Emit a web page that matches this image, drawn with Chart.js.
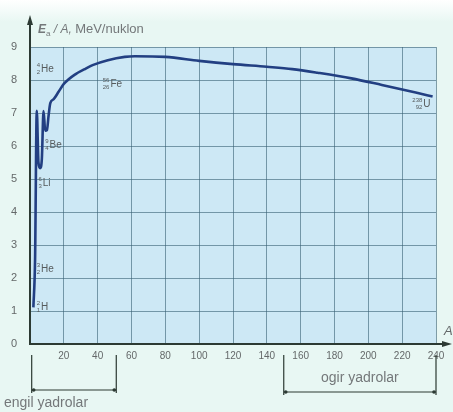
<!DOCTYPE html>
<html>
<head>
<meta charset="utf-8">
<script src="https://cdn.jsdelivr.net/npm/chart.js@4/dist/chart.umd.min.js"></script>
<style>
html,body{margin:0;padding:0;background:#ffffff;}
#wrap{width:453px;height:412px;}
</style>
</head>
<body>
<div id="wrap"><canvas id="c" width="453" height="412"></canvas></div>
<script>
// ---- data ----
const massNumbers   = [2, 3, 4, 5, 6, 7, 8, 9, 10, 11, 12, 14, 17, 20, 27, 32, 37, 46, 56, 62, 80, 100, 120, 140, 155, 170, 190, 208, 228, 238];
const bindingEnergy = [1.11, 2.57, 7.07, 5.5, 5.33, 5.61, 7.06, 6.46, 6.48, 6.93, 7.3, 7.42, 7.65, 7.88, 8.18, 8.32, 8.45, 8.6, 8.7, 8.72, 8.7, 8.58, 8.48, 8.4, 8.33, 8.22, 8.05, 7.85, 7.62, 7.5];
const xTicks = [0, 20, 40, 60, 80, 100, 120, 140, 160, 180, 200, 220, 240];
const yTicks = [0, 1, 2, 3, 4, 5, 6, 7, 8, 9];
const nuclideSymbols = ['He', 'Fe', 'U', 'Be', 'Li', 'He', 'H'];
const nuclideMass    = ['4', '56', '238', '9', '6', '3', '2'];
const nuclideCharge  = ['2', '26', '92', '4', '3', '2', '1'];
const labelAtA       = [4, 43, 226, 9, 5, 4, 4];
const labelAtE       = [8.35, 7.9, 7.3, 6.05, 4.9, 2.3, 1.15];
const axisTitle = ['E', 'a', ' / A, ', 'MeV/nuklon'];
const groupNames  = ['engil yadrolar', 'ogir yadrolar'];
const groupStartA = [1, 150];
const groupEndA   = [51, 240];

const GRAY = '#646869';
const FONT = '"Liberation Sans", Arial, sans-serif';

const decor = {
  id: 'decor',
  beforeDraw(chart) {
    const ctx = chart.ctx, a = chart.chartArea;
    ctx.save();
    const g = ctx.createLinearGradient(0, 0, 0, 22);
    g.addColorStop(0, '#ffffff');
    g.addColorStop(1, '#e8f7f3');
    ctx.fillStyle = g;
    ctx.fillRect(0, 0, chart.width, chart.height);
    ctx.fillStyle = '#e8f7f3';
    ctx.fillRect(0, 22, chart.width, chart.height - 22);
    ctx.fillStyle = '#cde8f5';
    ctx.fillRect(a.left, a.top, a.right - a.left, a.bottom - a.top);
    ctx.restore();
  },
  afterDraw(chart) {
    const ctx = chart.ctx, a = chart.chartArea;
    const xs = chart.scales.x, ys = chart.scales.y;
    ctx.save();
    // axes
    ctx.strokeStyle = '#2c3a33';
    ctx.fillStyle = '#2c3a33';
    ctx.lineWidth = 2;
    ctx.beginPath();
    ctx.moveTo(a.left, a.bottom + 1);
    ctx.lineTo(a.left, 22);
    ctx.moveTo(a.left - 1, a.bottom);
    ctx.lineTo(446, a.bottom);
    ctx.stroke();
    ctx.beginPath();
    ctx.moveTo(a.left, 15); ctx.lineTo(a.left - 3, 25); ctx.lineTo(a.left + 3, 25); ctx.closePath(); ctx.fill();
    ctx.beginPath();
    ctx.moveTo(452, a.bottom); ctx.lineTo(442, a.bottom - 3); ctx.lineTo(442, a.bottom + 3); ctx.closePath(); ctx.fill();
    ctx.fillStyle = GRAY;
    ctx.font = 'italic 13px ' + FONT;
    ctx.textBaseline = 'alphabetic';
    ctx.textAlign = 'left';
    ctx.fillText('A', 444, 335);

    // axis title
    let x = 38; const yb = 33;
    ctx.fillStyle = '#74787a';
    ctx.font = 'italic bold 12px ' + FONT;
    ctx.fillText(axisTitle[0], x, yb); x += ctx.measureText(axisTitle[0]).width;
    ctx.font = '8px ' + FONT;
    ctx.fillText(axisTitle[1], x, yb + 3); x += ctx.measureText(axisTitle[1]).width;
    ctx.font = 'italic 12px ' + FONT;
    ctx.fillText(axisTitle[2], x, yb); x += ctx.measureText(axisTitle[2]).width;
    ctx.font = '13px ' + FONT;
    ctx.fillText(axisTitle[3], x, yb);

    // nuclide labels
    for (let i = 0; i < nuclideSymbols.length; i++) {
      const px = xs.getPixelForValue(labelAtA[i]);
      const py = ys.getPixelForValue(labelAtE[i]);
      ctx.fillStyle = '#565b5d';
      ctx.font = '6px ' + FONT;
      ctx.textAlign = 'right';
      const nw = Math.max(ctx.measureText(nuclideMass[i]).width, ctx.measureText(nuclideCharge[i]).width);
      ctx.fillText(nuclideMass[i], px + nw, py - 1);
      ctx.fillText(nuclideCharge[i], px + nw, py + 6);
      ctx.textAlign = 'left';
      ctx.font = '10px ' + FONT;
      ctx.fillText(nuclideSymbols[i], px + nw + 1, py + 4);
    }

    // group brackets
    ctx.strokeStyle = '#2c3a33';
    ctx.fillStyle = '#2c3a33';
    ctx.lineWidth = 1.2;
    const lineY = [390, 392];
    const textPos = [[4, 407, 'left'], [null, 382, 'center']];
    for (let i = 0; i < groupNames.length; i++) {
      const x0 = xs.getPixelForValue(groupStartA[i]);
      const x1 = xs.getPixelForValue(groupEndA[i]);
      ctx.beginPath();
      ctx.moveTo(x0, 355); ctx.lineTo(x0, lineY[i] + 3);
      ctx.moveTo(x1, 355); ctx.lineTo(x1, lineY[i] + 3);
      ctx.moveTo(x0, lineY[i]); ctx.lineTo(x1, lineY[i]);
      ctx.stroke();
      ctx.beginPath(); ctx.arc(x0 + 2, lineY[i], 1.8, 0, Math.PI * 2); ctx.fill();
      ctx.beginPath(); ctx.arc(x1 - 2, lineY[i], 1.8, 0, Math.PI * 2); ctx.fill();
      ctx.fillStyle = '#74787a';
      ctx.font = '14px ' + FONT;
      ctx.textAlign = textPos[i][2];
      const tx = textPos[i][0] === null ? (x0 + x1) / 2 : textPos[i][0];
      ctx.fillText(groupNames[i], tx, textPos[i][1]);
      ctx.fillStyle = '#2c3a33';
    }
    ctx.restore();
  }
};

new Chart(document.getElementById('c'), {
  type: 'scatter',
  data: {
    datasets: [{
      data: massNumbers.map((m, i) => ({ x: m, y: bindingEnergy[i] })),
      showLine: true,
      borderColor: '#223f82',
      borderWidth: 2.6,
      pointRadius: 0,
      cubicInterpolationMode: 'monotone',
      fill: false
    }]
  },
  options: {
    responsive: false,
    animation: false,
    devicePixelRatio: 1,
    layout: { padding: { top: 47, right: 17, left: 0, bottom: 0 } },
    plugins: { legend: { display: false }, tooltip: { enabled: false } },
    scales: {
      x: {
        type: 'linear', min: 0, max: 240,
        afterBuildTicks(s) { s.ticks = xTicks.map(v => ({ value: v })); },
        afterFit(s) { s.height = 68; },
        grid: { color: 'rgba(55,95,115,0.6)', lineWidth: 1, drawTicks: false },
        border: { display: false },
        ticks: {
          padding: 6, color: GRAY, font: { size: 10, family: FONT }, maxRotation: 0, autoSkip: false,
          callback: v => (v === 0 ? '' : String(v))
        }
      },
      y: {
        type: 'linear', min: 0, max: 9,
        afterBuildTicks(s) { s.ticks = yTicks.map(v => ({ value: v })); },
        afterFit(s) { s.width = 30; },
        grid: { color: 'rgba(55,95,115,0.6)', lineWidth: 1, drawTicks: false },
        border: { display: false },
        ticks: { padding: 13, color: GRAY, font: { size: 11, family: FONT } }
      }
    }
  },
  plugins: [decor]
});
</script>
</body>
</html>
